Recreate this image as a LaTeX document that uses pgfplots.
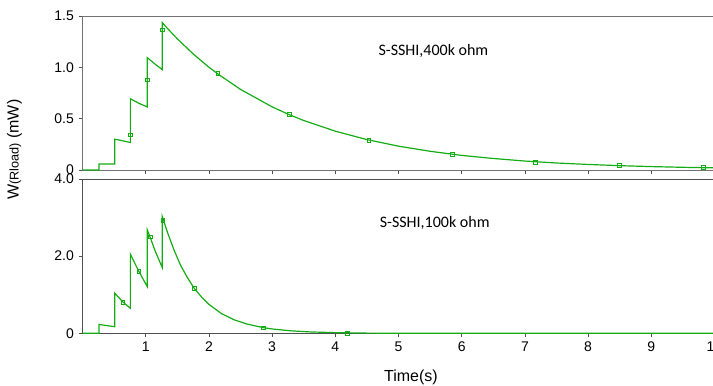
\documentclass[border=0pt]{standalone}
\usepackage{fontspec}
\setmainfont{Liberation Sans}
\newfontfamily\carlito{Carlito}
\usepackage{pgfplots}
\pgfplotsset{compat=1.18}
\definecolor{lgreen}{RGB}{20,172,20}
\definecolor{axgray}{RGB}{80,80,80}
\begin{document}
\begin{tikzpicture}
\pgfplotsset{
  myaxis/.style={
    set layers,
    scale only axis,
    width=476.4pt,
    xmin=0, xmax=10.05,
    ymin=0,
    clip=false,
    axis line style={axgray, line width=0.7pt},
    tick style={axgray, line width=0.6pt},
    tick align=outside,
    major tick length=3pt,
    xtick={1,2,3,4,5,6,7,8,9,10},
    /pgf/number format/assume math mode=true,
    tick label style={font=\fontsize{10.5}{12}\selectfont, black},
    xtick pos=bottom, ytick pos=left,
  }
}
% bottom axis: 100k ohm
\begin{axis}[myaxis,
  at={(0pt,0pt)}, anchor=south west,
  height=115.7pt,
  ymax=4,
  ytick={0,2,4}, yticklabels={0,2.0,4.0},
  xticklabels={1,2,3,4,5,6,7,8,9,10},
  xlabel={Time(s)},
  xlabel style={font=\fontsize{12}{14}\selectfont, at={(axis description cs:0.517,-0.283)}, anchor=center},
  ylabel={W{\fontsize{9.5}{11}\selectfont(Rload)} (mW)},
  ylabel style={font=\fontsize{12}{14}\selectfont, at={(axis description cs:-0.107,1.19)}, anchor=center},
]
\addplot[lgreen, line width=0.9pt, sharp plot, on layer=axis foreground] coordinates {
(0,0) (0.26,0) (0.26,0.23) (0.51,0.17) (0.51,1.04) (0.64,0.81) (0.757,0.65)
(0.757,2.05) (0.89,1.61) (1.025,1.21) (1.025,2.68) (1.07,2.49) (1.15,2.13)
(1.263,1.70) (1.263,3.02) (1.35,2.59) (1.45,2.15) (1.55,1.77) (1.65,1.47)
(1.77,1.16) (1.9,0.91) (2.0,0.75) (2.2,0.51) (2.4,0.35) (2.6,0.24) (2.86,0.147)
(3.0,0.112) (3.3,0.064) (3.6,0.036) (4.0,0.017) (4.5,0.005) (5.0,0.001)
(5.5,0) (6,0) (6.5,0) (7,0) (7.5,0) (8,0) (8.5,0) (9,0) (9.5,0) (10.05,0)
};
\addplot[lgreen, only marks, mark=square, mark size=1.4pt, mark options={line width=0.6pt}, on layer=axis foreground] coordinates {
(0.64,0.81) (0.89,1.61) (1.07,2.50) (1.27,2.92) (1.77,1.16) (2.86,0.14) (4.19,0.0)
};
\node[anchor=west, font=\carlito\fontsize{12}{14}\selectfont] at (axis cs:4.63,2.86) {S-SSHI,100k ohm};
\end{axis}
% top axis: 400k ohm
\begin{axis}[myaxis,
  at={(0pt,122.5pt)}, anchor=south west,
  height=115.5pt,
  ymax=1.5,
  ytick={0,0.5,1,1.5}, yticklabels={0,0.5,1.0,1.5},
  xticklabels={},
  axis line style={axgray!80, line width=0.7pt},
]
\addplot[lgreen, line width=0.9pt, sharp plot, on layer=axis foreground] coordinates {
(0,0) (0.26,0) (0.26,0.058) (0.51,0.058) (0.51,0.30) (0.63,0.285) (0.757,0.268)
(0.757,0.694) (0.89,0.65) (1.025,0.614) (1.025,1.094) (1.15,1.03) (1.263,0.977)
(1.263,1.435) (1.35,1.375) (1.5,1.278) (1.75,1.131) (2.0,1.001) (2.14,0.936)
(2.5,0.785) (3.0,0.615) (3.27,0.539) (3.5,0.482) (4.0,0.378) (4.5,0.296)
(5.0,0.232) (5.5,0.182) (6.0,0.142) (6.5,0.112) (7.0,0.087) (7.5,0.068)
(8.0,0.054) (8.5,0.042) (9.0,0.033) (9.5,0.026) (10.05,0.020)
};
\addplot[lgreen, only marks, mark=square, mark size=1.4pt, mark options={line width=0.6pt}, on layer=axis foreground] coordinates {
(0.757,0.341) (1.025,0.877) (1.263,1.364) (2.14,0.94) (3.27,0.54) (4.53,0.285)
(5.85,0.149) (7.17,0.075) (8.49,0.042) (9.82,0.022)
};
\node[anchor=west, font=\carlito\fontsize{12}{14}\selectfont] at (axis cs:4.61,1.16) {S-SSHI,400k ohm};
\end{axis}
\pgfresetboundingbox
\path[use as bounding box] (-61.9pt,-38.8pt) rectangle (472.9pt,250pt);
\end{tikzpicture}
\end{document}
